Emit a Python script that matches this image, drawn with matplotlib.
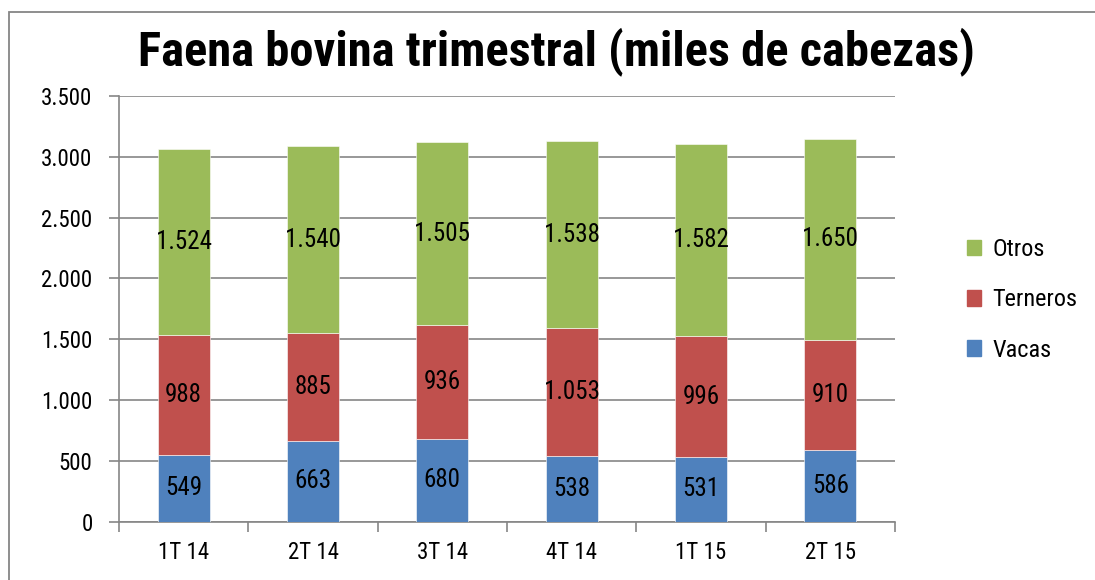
## Faena bovina trimestral - stacked bars
import matplotlib.pyplot as plt
from matplotlib.patches import Rectangle, Patch

quarters = ["1T 14", "2T 14", "3T 14", "4T 14", "1T 15", "2T 15"]
vacas = [549, 663, 680, 538, 531, 586]
terneros = [988, 885, 936, 1053, 996, 910]
otros = [1524, 1540, 1505, 1538, 1582, 1650]

series = [("Vacas", vacas, "#4F81BD"),
          ("Terneros", terneros, "#C0504D"),
          ("Otros", otros, "#9BBB59")]

plt.rcParams["font.family"] = ["Roboto Condensed", "Liberation Sans", "DejaVu Sans"]

def fmt(v):
    return f"{v:,.0f}".replace(",", ".")

fig = plt.figure(figsize=(10.95, 5.8), dpi=100)
# outer chart frame (cut by the image edge on the right and bottom)
fig.patches.append(Rectangle((9 / 1095, -0.05), 1.2, 1.05 - 12 / 580,
                             transform=fig.transFigure, fill=False,
                             edgecolor="#868686", linewidth=1.3))

ax = fig.add_axes([119 / 1095, 1 - 521.7 / 580, (895 - 119) / 1095, (521.7 - 96) / 580])

x = list(range(len(quarters)))
bottom = [0] * len(quarters)
for name, vals, color in series:
    ax.bar(x, vals, width=0.4, bottom=bottom, color=color,
           edgecolor="white", linewidth=0.4, zorder=3, label=name)
    for xi, b, v in zip(x, bottom, vals):
        ax.text(xi, b + v / 2, fmt(v), ha="center", va="center",
                fontsize=18, color="black", zorder=4)
    bottom = [b + v for b, v in zip(bottom, vals)]

ax.set_ylim(0, 3500)
ax.set_xlim(-0.5, len(quarters) - 0.5)
ax.set_yticks(range(0, 3501, 500))
ax.set_yticklabels([fmt(v) for v in range(0, 3501, 500)], fontsize=16.5)
ax.set_xticks(x)
ax.set_xticklabels(quarters, fontsize=16.5)
ax.set_xticks([i - 0.5 for i in range(len(quarters) + 1)], minor=True)
ax.tick_params(axis="x", which="major", length=0, pad=14)
ax.tick_params(axis="x", which="minor", length=7, color="#868686", width=1.2)
ax.tick_params(axis="y", length=7, color="#868686", width=1.2, pad=12)

ax.grid(axis="y", color="#868686", linewidth=1.2, zorder=0)
for s in ["top", "right"]:
    ax.spines[s].set_visible(False)
for s in ["left", "bottom"]:
    ax.spines[s].set_color("#868686")
    ax.spines[s].set_linewidth(1.2)

fig.text(556 / 1095, 1 - 52 / 580, "Faena bovina trimestral (miles de cabezas)",
         ha="center", va="center", fontsize=35, fontweight="bold")

handles = [Patch(color=c, label=n) for n, _, c in series[::-1]]
fig.legend(handles=handles, loc="center left", bbox_to_anchor=(945 / 1095, 1 - 300 / 580),
           frameon=False, fontsize=17.5, handlelength=0.6, handleheight=0.6,
           handletextpad=0.45, labelspacing=1.12)

fig.savefig("out.png", dpi=100)
